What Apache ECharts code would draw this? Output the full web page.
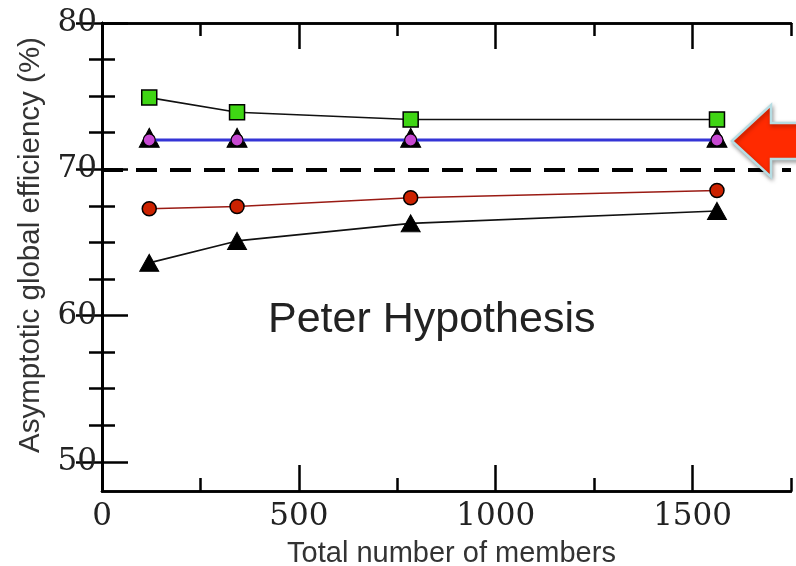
<!DOCTYPE html>
<html>
<head>
<meta charset="utf-8">
<script src="https://cdn.jsdelivr.net/npm/echarts@6/dist/echarts.min.js"></script>
<style>
  html, body { margin: 0; padding: 0; background: #fff; }
  #chart { width: 796px; height: 566px; }
</style>
</head>
<body>
<div id="chart"></div>
<script>
// Ensemble sizes (x) and asymptotic efficiencies (%) for each run
const members = [120, 343, 784, 1562];
const greenSquares = [74.9, 73.9, 73.4, 73.4];
const blackTrianglesUpper = [72.15, 72.15, 72.15, 72.15];
const purpleCircles = [72.0, 72.0, 72.0, 72.0];
const redCircles = [67.3, 67.45, 68.05, 68.55];
const blackTrianglesLower = [63.6, 65.1, 66.3, 67.15];
const thresholdLevel = 70;

// Axis ticks
const xMajor = [0, 500, 1000, 1500];
const xMinor = [250, 750, 1250, 1750];
const yMajor = [50, 60, 70, 80];
const yMinor = [52.5, 55, 57.5, 62.5, 65, 67.5, 72.5, 75, 77.5];

const pairs = ys => members.map((x, i) => [x, ys[i]]);

const AX = { color: '#000', width: 2.5 };
const serif = 'DejaVu Serif';
const sans = 'Liberation Sans';
const plain = v => String(v);

function xAx(pos, ticks, len, labels) {
  return {
    type: 'value', min: 0, max: 1750, position: pos,
    axisLine: { show: true, lineStyle: AX },
    splitLine: { show: false },
    axisTick: { show: true, inside: true, length: len, customValues: ticks, lineStyle: AX },
    axisLabel: labels ? { show: true, customValues: xMajor, formatter: plain, fontFamily: serif, fontSize: 31, color: '#222', margin: 10 } : { show: false }
  };
}
function yAx(pos, ticks, len, labels) {
  return {
    type: 'value', min: 48, max: 80, position: pos,
    axisLine: { show: true, lineStyle: AX },
    splitLine: { show: false },
    axisTick: { show: true, inside: true, length: len, customValues: ticks, lineStyle: AX },
    axisLabel: labels ? { show: true, customValues: yMajor, formatter: plain, fontFamily: serif, fontSize: 31, color: '#222', margin: 5 } : { show: false }
  };
}

const xBottom = xAx('bottom', xMajor, 26, true);
xBottom.name = 'Total number of members';
xBottom.nameLocation = 'middle';
xBottom.nameGap = 48;
xBottom.nameTextStyle = { fontFamily: sans, fontSize: 29, color: '#333', padding: [0, 0, 0, 10] };

const yLeft = yAx('left', yMajor, 26, true);
yLeft.name = 'Asymptotic global efficiency (%)';
yLeft.nameLocation = 'middle';
yLeft.nameGap = 56;
yLeft.nameTextStyle = { fontFamily: sans, fontSize: 29.5, color: '#333', padding: [0, 0, 0, 24] };

const chart = echarts.init(document.getElementById('chart'), null, { renderer: 'canvas' });

const option = {
  animation: false,
  backgroundColor: '#fff',
  grid: { left: 102, right: 5, top: 23, bottom: 75, containLabel: false, outerBoundsMode: 'none' },
  xAxis: [
    xBottom,
    xAx('top', xMajor, 26, false),
    xAx('bottom', xMinor, 13, false),
    xAx('top', xMinor, 13, false)
  ],
  yAxis: [
    yLeft,
    yAx('right', yMajor, 26, false),
    yAx('left', yMinor, 13, false),
    yAx('right', yMinor, 13, false)
  ],
  series: [
    {
      name: 'threshold', type: 'line', data: [], silent: true,
      markLine: {
        silent: true, symbol: 'none', label: { show: false },
        lineStyle: { color: '#000', width: 4, type: [21, 13] },
        data: [{ yAxis: thresholdLevel }]
      }
    },
    {
      name: 'green', type: 'line', data: pairs(greenSquares), z: 3,
      symbol: 'rect', symbolSize: 15,
      lineStyle: { color: '#111', width: 1.6 },
      itemStyle: { color: '#3fd614', borderColor: '#000', borderWidth: 1.5 }
    },
    {
      name: 'upperTriangles', type: 'line', data: pairs(blackTrianglesUpper), z: 3,
      symbol: 'triangle', symbolSize: [20, 19],
      lineStyle: { width: 0, opacity: 0 },
      itemStyle: { color: '#000', borderColor: '#000', borderWidth: 1 }
    },
    {
      name: 'purple', type: 'line', data: pairs(purpleCircles), z: 4,
      symbol: 'circle', symbolSize: 12,
      lineStyle: { color: '#3434d6', width: 3 },
      itemStyle: { color: '#c748d2', borderColor: '#000', borderWidth: 1.2 }
    },
    {
      name: 'red', type: 'line', data: pairs(redCircles), z: 3,
      symbol: 'circle', symbolSize: 14,
      lineStyle: { color: '#9a1b14', width: 1.6 },
      itemStyle: { color: '#cc2200', borderColor: '#000', borderWidth: 1.5 }
    },
    {
      name: 'lowerTriangles', type: 'line', data: pairs(blackTrianglesLower), z: 3,
      symbol: 'triangle', symbolSize: [19, 17],
      lineStyle: { color: '#111', width: 1.6 },
      itemStyle: { color: '#000', borderColor: '#000', borderWidth: 1 }
    }
  ]
};
chart.setOption(option);

// Red arrow pointing at the largest ensemble's purple point, plus the caption
const tip = chart.convertToPixel({ xAxisIndex: 0, yAxisIndex: 0 }, [members[3], purpleCircles[3]]);
const tx = tip[0] + 15, ty = tip[1] + 1;
chart.setOption({
  graphic: [
    {
      type: 'polygon', z: 100,
      shape: {
        points: [
          [tx, ty], [tx + 39, ty - 36], [tx + 39, ty - 18], [810, ty - 18],
          [810, ty + 18], [tx + 39, ty + 18], [tx + 39, ty + 36]
        ]
      },
      style: {
        fill: '#ff2a00', stroke: '#b6dde3', lineWidth: 2.5,
        shadowBlur: 4, shadowColor: 'rgba(0,0,0,0.35)', shadowOffsetX: 1, shadowOffsetY: 2
      }
    },
    {
      type: 'text', z: 100, left: 268, top: 299,
      style: { text: 'Peter Hypothesis', fontFamily: sans, fontSize: 43, fill: '#222' }
    }
  ]
});
</script>
</body>
</html>
